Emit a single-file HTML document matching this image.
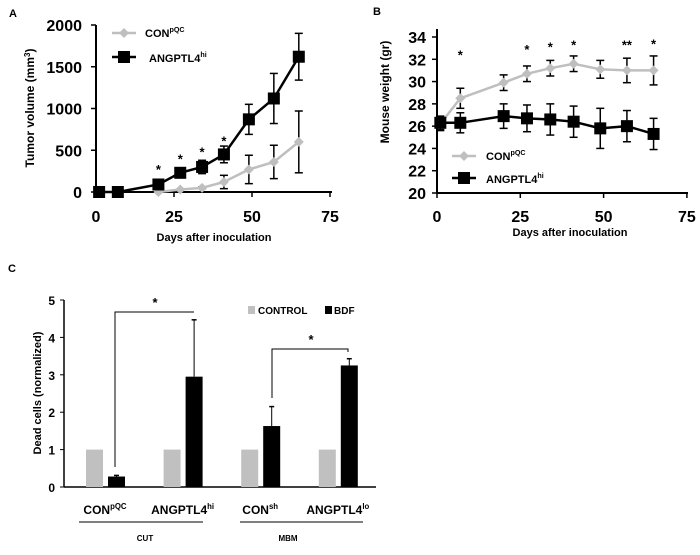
<!DOCTYPE html>
<html><head><meta charset="utf-8"><style>
body{margin:0;background:#fff;width:700px;height:550px;overflow:hidden}
text{font-family:"Liberation Sans",Arial,sans-serif;font-weight:bold;fill:#000}
</style></head><body>
<svg id="svg" width="700" height="550" xmlns="http://www.w3.org/2000/svg"></svg>
<script>
// Panel A data
const daysA = [1,7,20,27,34,41,49,57,65];
const angA = [0,0,90,230,300,450,870,1120,1620];
const angAErr = [0,0,20,60,80,100,180,300,280];
const conDaysA = [20,27,34,41,49,57,65];
const conA = [0,30,50,120,270,360,600];
const conAErr = [0,0,10,80,170,200,370];
const starsA = [[20,"*"],[27,"*"],[34,"*"],[41,"*"]];
const starsAy = [310,440,520,650];
const yTicksA = [0,500,1000,1500,2000];
const xTicks = [0,25,50,75];
// Panel B data
const daysB = [1,7,20,27,34,41,49,57,65];
const conB = [26.2,28.5,29.9,30.7,31.2,31.6,31.1,31.0,31.0];
const conBErr = [0.6,0.9,0.7,0.7,0.7,0.7,0.8,1.1,1.3];
const angB = [26.3,26.3,26.9,26.7,26.6,26.4,25.8,26.0,25.3];
const angBErr = [0.6,0.9,1.1,1.2,1.4,1.4,1.8,1.4,1.4];
const starsB = [[7,"*"],[27,"*"],[34,"*"],[41,"*"],[57,"**"],[65,"*"]];
const starsBy = [32.7,33.2,33.4,33.6,33.6,33.7];
const yTicksB = [20,22,24,26,28,30,32,34];
// Panel C data
const groupsC = ["CON","ANGPTL4","CON","ANGPTL4"];
const supsC = ["pQC","hi","sh","lo"];
const ctrlC = [1,1,1,1];
const bdfC = [0.28,2.95,1.63,3.25];
const bdfErr = [0.03,1.52,0.52,0.18];
const yTicksC = [0,1,2,3,4,5];

const svg=document.getElementById('svg');
const NS="http://www.w3.org/2000/svg";
function mk(tag,attrs,parent){const e=document.createElementNS(NS,tag);for(const k in attrs)e.setAttribute(k,attrs[k]);(parent||svg).appendChild(e);return e;}
function txt(x,y,s,size,anchor,name,parent){const t=mk('text',{x:x,y:y,'font-size':size,'text-anchor':anchor||'middle'},parent);t.textContent=s;


return t;}
function grp(name){const g=mk('g',{});


return g;}
function supTxt(x,y,base,sup,size,anchor,name,parent){const t=mk('text',{x:x,y:y,'font-size':size,'text-anchor':anchor||'start'},parent);


const a=document.createElementNS(NS,'tspan');a.textContent=base;t.appendChild(a);
const b=document.createElementNS(NS,'tspan');b.setAttribute('dy',-5);b.setAttribute('font-size',size*0.65);b.textContent=sup;t.appendChild(b);return t;}

// ---------- Panel A ----------
const xA=d=>96+d*(78/25), yA=v=>192-v*(167/2000);
txt(13,17,"A",11,'middle','panel-a-label');
let g=grp('panel-a-axes');
mk('line',{x1:96,y1:25,x2:96,y2:192,stroke:'#000','stroke-width':2},g);
mk('line',{x1:96,y1:192,x2:332,y2:192,stroke:'#000','stroke-width':2},g);
yTicksA.forEach(v=>{mk('line',{x1:91,y1:yA(v),x2:96,y2:yA(v),stroke:'#000','stroke-width':1.5},g);txt(82,yA(v)+6,String(v),16,'end','y-tick-a',g);});
xTicks.forEach(v=>{mk('line',{x1:xA(v),y1:192,x2:xA(v),y2:197,stroke:'#000','stroke-width':1.5},g);txt(xA(v),222,String(v),16,'middle','x-tick-a',g);});
txt(214,241,"Days after inoculation",11,'middle','x-axis-title-a');
let ty=mk('text',{x:0,y:0,'font-size':12,'text-anchor':'middle',transform:'translate(34,108) rotate(-90)'});

ty.innerHTML='Tumor volume (mm<tspan dy="-4" font-size="8">3</tspan><tspan dy="4">)</tspan>';
function series(xs,ys,errs,xf,yf,color,marker,name){const sg=grp(name);
 xs.forEach((d,i)=>{if(errs[i]>0){const x=xf(d),y1=yf(ys[i]-errs[i]),y2=yf(ys[i]+errs[i]);
 mk('line',{x1:x,y1:y1,x2:x,y2:y2,stroke:'#000','stroke-width':1.5},sg);
 mk('line',{x1:x-4,y1:y1,x2:x+4,y2:y1,stroke:'#000','stroke-width':1.5},sg);
 mk('line',{x1:x-4,y1:y2,x2:x+4,y2:y2,stroke:'#000','stroke-width':1.5},sg);}});
 mk('polyline',{points:xs.map((d,i)=>xf(d)+','+yf(ys[i])).join(' '),fill:'none',stroke:color,'stroke-width':2.5},sg);
 xs.forEach((d,i)=>{const x=xf(d),y=yf(ys[i]);let m;
 if(marker==='sq')m=mk('rect',{x:x-6,y:y-6,width:12,height:12,fill:color},sg);
 else m=mk('polygon',{points:`${x},${y-5} ${x+5},${y} ${x},${y+5} ${x-5},${y}`,fill:color},sg);
 });}
series(conDaysA,conA,conAErr,xA,yA,'#bfbfbf','dia','series-con-a');
series(daysA,angA,angAErr,xA,yA,'#000','sq','series-angptl4-a');
starsA.forEach((s,i)=>txt(xA(s[0]),yA(starsAy[i])+8,s[1],13,'middle','sig-star-a'));
g=grp('legend-a');
mk('line',{x1:112,y1:33,x2:136,y2:33,stroke:'#bfbfbf','stroke-width':2.5},g);
mk('polygon',{points:'124,28 129,33 124,38 119,33',fill:'#bfbfbf'},g);
supTxt(145,37,"CON","pQC",11,'start','legend-con-a',g);
mk('line',{x1:112,y1:57,x2:136,y2:57,stroke:'#000','stroke-width':2.5},g);
mk('rect',{x:118,y:51,width:12,height:12,fill:'#000'},g);
supTxt(149,62,"ANGPTL4","hi",11,'start','legend-angptl4-a',g);

// ---------- Panel B ----------
const xB=d=>437+d*(83.3/25), yB=v=>193-(v-20)*(156/14);
txt(377,15,"B",11,'middle','panel-b-label');
g=grp('panel-b-axes');
mk('line',{x1:437,y1:29,x2:437,y2:193,stroke:'#000','stroke-width':2},g);
mk('line',{x1:437,y1:193,x2:688,y2:193,stroke:'#000','stroke-width':2},g);
yTicksB.forEach(v=>{mk('line',{x1:432,y1:yB(v),x2:437,y2:yB(v),stroke:'#000','stroke-width':1.5},g);txt(426,yB(v)+6,String(v),16,'end','y-tick-b',g);});
xTicks.forEach(v=>{mk('line',{x1:xB(v),y1:193,x2:xB(v),y2:198,stroke:'#000','stroke-width':1.5},g);txt(xB(v),222,String(v),16,'middle','x-tick-b',g);});
txt(570,236,"Days after inoculation",11,'middle','x-axis-title-b');
ty=txt(0,0,"Mouse weight (gr)",12,'middle','y-axis-title-b');ty.setAttribute('transform','translate(389,92) rotate(-90)');
series(daysB,conB,conBErr,xB,yB,'#bfbfbf','dia','series-con-b');
series(daysB,angB,angBErr,xB,yB,'#000','sq','series-angptl4-b');
starsB.forEach((s,i)=>txt(xB(s[0]),yB(starsBy[i])+8,s[1],13,'middle','sig-star-b'));
g=grp('legend-b');
mk('line',{x1:452,y1:156,x2:476,y2:156,stroke:'#bfbfbf','stroke-width':2.5},g);
mk('polygon',{points:'464,151 469,156 464,161 459,156',fill:'#bfbfbf'},g);
supTxt(486,160,"CON","pQC",11,'start','legend-con-b',g);
mk('line',{x1:452,y1:178,x2:476,y2:178,stroke:'#000','stroke-width':2.5},g);
mk('rect',{x:458,y:172,width:12,height:12,fill:'#000'},g);
supTxt(486,183,"ANGPTL4","hi",11,'start','legend-angptl4-b',g);

// ---------- Panel C ----------
const yC=v=>487-v*37.4, gx=i=>86+i*77.6;
txt(12,272,"C",11,'middle','panel-c-label');
g=grp('panel-c-axes');
mk('line',{x1:64,y1:300,x2:64,y2:487,stroke:'#000','stroke-width':1.5},g);
mk('line',{x1:64,y1:487,x2:376,y2:487,stroke:'#000','stroke-width':1.5},g);
yTicksC.forEach(v=>{mk('line',{x1:60,y1:yC(v),x2:64,y2:yC(v),stroke:'#000','stroke-width':1},g);txt(55,yC(v)+5,String(v),12,'end','y-tick-c',g);});
ty=txt(0,0,"Dead cells (normalized)",11,'middle','y-axis-title-c');ty.setAttribute('transform','translate(41,393) rotate(-90)');
g=grp('bars-c');
ctrlC.forEach((v,i)=>{const r=mk('rect',{x:gx(i),y:yC(v),width:17,height:yC(0)-yC(v),fill:'#c0c0c0'},g);
});
bdfC.forEach((v,i)=>{const x=gx(i)+22;
 mk('line',{x1:x+8.5,y1:yC(v),x2:x+8.5,y2:yC(v+bdfErr[i]),stroke:'#000','stroke-width':1},g);
 mk('line',{x1:x+6,y1:yC(v+bdfErr[i]),x2:x+11,y2:yC(v+bdfErr[i]),stroke:'#000','stroke-width':1.5},g);
 const r=mk('rect',{x:x,y:yC(v),width:17,height:yC(0)-yC(v),fill:'#000'},g);
 });
groupsC.forEach((s,i)=>supTxt(gx(i)+19,514,s,supsC[i],12,'middle','group-label-c'));
g=grp('sig-brackets-c');
mk('polyline',{points:`115,467 115,312 194,312`,fill:'none',stroke:'#000','stroke-width':1},g);
mk('polyline',{points:`272,398 272,349 348,349 348,352`,fill:'none',stroke:'#000','stroke-width':1},g);
txt(155,307,"*",13,'middle','sig-star-c1');
txt(311,344,"*",13,'middle','sig-star-c2');
mk('line',{x1:79,y1:522,x2:203,y2:522,stroke:'#000','stroke-width':1},g);
mk('line',{x1:240,y1:522,x2:363,y2:522,stroke:'#000','stroke-width':1},g);
txt(145,541,"CUT",8,'middle','cut-label');
txt(288,541,"MBM",8,'middle','mbm-label');
g=grp('legend-c');
mk('rect',{x:248,y:306,width:7,height:8,fill:'#c0c0c0'},g);
txt(258,314,"CONTROL",10,'start','legend-control',g);
mk('rect',{x:325,y:306,width:7,height:8,fill:'#000'},g);
txt(334,314,"BDF",10,'start','legend-bdf',g);
</script>
</body></html>
